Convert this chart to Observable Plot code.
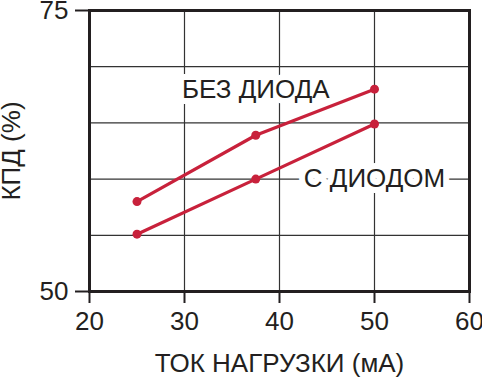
<!DOCTYPE html>
<html>
<head>
<meta charset="utf-8">
<script src="https://cdn.jsdelivr.net/npm/d3@7"></script>
<script src="https://cdn.jsdelivr.net/npm/@observablehq/plot@0.6"></script>
<style>
  html, body { margin: 0; padding: 0; background: #fff; }
  svg { display: block; overflow: visible; }
</style>
</head>
<body>
<div id="chart"></div>
<script>
const currents = [25, 37.5, 50];
const withoutDiode = [58.0, 63.9, 68.0];
const withDiode = [55.1, 60.0, 64.9];
const xTicks = [20, 30, 40, 50, 60];
const yTicks = [50, 75];
const xGrid = [30, 40, 50];
const yGrid = [55, 60, 65, 70];
const seriesLabels = [
  {text: "БЕЗ ДИОДА", x: 37.5, y: 68},
  {text: "С ДИОДОМ", x: 50, y: 60}
];

const data = [
  ...currents.map((c, i) => ({series: "БЕЗ ДИОДА", x: c, y: withoutDiode[i]})),
  ...currents.map((c, i) => ({series: "С ДИОДОМ", x: c, y: withDiode[i]}))
];

const red = "#c8213b";
const ink = "#231f20";

const chart = Plot.plot({
  width: 482,
  height: 381,
  marginLeft: 89,
  marginRight: 13,
  marginTop: 10,
  marginBottom: 90,
  style: {fontFamily: "'Liberation Sans', Arial, Helvetica, sans-serif", color: ink, background: "#fff", overflow: "visible"},
  x: {domain: [20, 60]},
  y: {domain: [50, 75]},
  marks: [
    Plot.ruleX(xGrid, {stroke: "#333", strokeWidth: 1.2}),
    Plot.ruleY(yGrid, {stroke: "#333", strokeWidth: 1.2}),
    Plot.text(seriesLabels, {x: "x", y: "y", text: "text", fontSize: 26, fill: ink, stroke: "white", strokeWidth: 12, paintOrder: "stroke"}),
    Plot.line(data, {x: "x", y: "y", z: "series", stroke: red, strokeWidth: 3.2}),
    Plot.dot(data, {x: "x", y: "y", fill: red, r: 4.5}),
    Plot.frame({stroke: ink, strokeWidth: 3}),
    Plot.axisX({ticks: xTicks, tickSize: 12, tickPadding: 8, fontSize: 26, stroke: ink, strokeWidth: 2, tickFormat: d => String(d),
      label: "ТОК НАГРУЗКИ (мА)", labelAnchor: "center", labelArrow: "none", labelOffset: 80}),
    Plot.axisY({ticks: yTicks, tickSize: 14, tickPadding: 7, fontSize: 26, stroke: ink, strokeWidth: 2, tickFormat: d => String(d),
      label: "КПД (%)", labelAnchor: "center", labelArrow: "none", labelOffset: 88})
  ]
});
document.getElementById("chart").appendChild(chart);
</script>
</body>
</html>
